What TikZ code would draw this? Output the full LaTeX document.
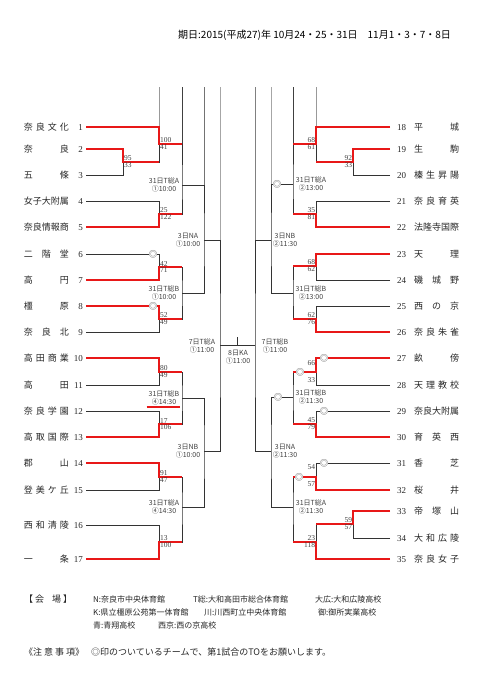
\documentclass[tikz,border=0pt]{standalone}
\usepackage{fontspec}
\setmainfont{Liberation Serif}
\newfontfamily\jp{Noto Sans CJK JP}
\usetikzlibrary{calc}

\definecolor{winred}{RGB}{232,24,24}
\newcommand\tname[1]{\makebox[45pt][s]{\jp #1}}
\newcommand\sep{\hfill{}}

\begin{document}
\begin{tikzpicture}[x=1pt,y=-1pt]

% Bracket style
\tikzset{
    lose/.style={draw=black!80, line width=0.9pt},
    win/.style={draw=winred, line width=1.8pt},
    guide/.style={line width=0.8pt},
    team/.style={inner sep=0pt, font=\fontsize{9}{9}\selectfont, text=black!85},
    score/.style={inner sep=0.8pt, font=\fontsize{7.5}{7.5}\selectfont, text=black!75},
    game/.style={inner sep=0pt, align=center, font=\jp\fontsize{7}{8.5}\selectfont, text=black!75},
    tomark/.style={fill=white, inner sep=0.2pt, font=\jp\fontsize{8.5}{8.5}\selectfont, text=black!70},
    note/.style={anchor=west, inner sep=0pt, font=\jp\fontsize{9}{9}\selectfont, text=black!85},
    venue/.style={note, font=\jp\fontsize{8}{8}\selectfont}
}

\useasboundingbox (0,0) rectangle (482,680);

% Date
\node[anchor=west, inner sep=0pt, font=\jp\fontsize{10}{10}\selectfont] (date) at (178,35)
    {期日:2015(平成27)年 10月24・25・31日　11月1・3・7・8日};

% Teams
\foreach \n/\name/\y in {1/奈\sep 良\sep 文\sep 化/127, 2/奈\sep 良/149, 3/五\sep 條/175,
    4/女\sep 子\sep 大\sep 附\sep 属/201, 5/奈\sep 良\sep 情\sep 報\sep 商/227,
    6/二\sep 階\sep 堂/254, 7/高\sep 円/280, 8/橿\sep 原/306, 9/奈\sep 良\sep 北/332,
    10/高\sep 田\sep 商\sep 業/358, 11/高\sep 田/385, 12/奈\sep 良\sep 学\sep 園/411,
    13/高\sep 取\sep 国\sep 際/437, 14/郡\sep 山/463, 15/登\sep 美\sep ケ\sep 丘/490,
    16/西\sep 和\sep 清\sep 陵/525, 17/一\sep 条/559}
    \node[team, anchor=east] (L\n) at (83,\y) {\tname{\name}\makebox[14pt][r]{\n}};
\foreach \n/\name/\y in {18/平\sep 城/127, 19/生\sep 駒/149, 20/榛\sep 生\sep 昇\sep 陽/175,
    21/奈\sep 良\sep 育\sep 英/201, 22/法\sep 隆\sep 寺\sep 国\sep 際/227,
    23/天\sep 理/254, 24/磯\sep 城\sep 野/280, 25/西\sep の\sep 京/306,
    26/奈\sep 良\sep 朱\sep 雀/332, 27/畝\sep 傍/358, 28/天\sep 理\sep 教\sep 校/385,
    29/奈\sep 良\sep 大\sep 附\sep 属/411, 30/育\sep 英\sep 西/437, 31/香\sep 芝/463,
    32/桜\sep 井/490, 33/帝\sep 塚\sep 山/511, 34/大\sep 和\sep 広\sep 陵/538,
    35/奈\sep 良\sep 女\sep 子/559}
    \node[team, anchor=west] (R\n) at (397,\y) {\makebox[17pt][l]{\n}\tname{\name}};

% Games
\foreach \m/\x/\y in {a0/123/162, a1/159/144, a2/159/214, a3/159/267, a4/159/319,
    a5/159/372, a6/159/424, a7/159/477, a8/159/542, b1/182/185, b2/182/293,
    b3/182/398, b4/182/507, c1/204/240, c2/204/451, d1/220/345,
    r0/353/162, r1/316/144, r2/316/214, r3/316/266, r4/316/319, r5/316/372,
    r6/316/424, r7/316/477, r8/353/524, r9/316/542, s1/293/184, s2/293/293,
    s3/293/397, s4/293/507, t1/271/240, t2/271/451, u1/255/345}
    \coordinate (M\m) at (\x,\y);

% Guide lines at the top
\foreach \x/\y/\c in {159/127/40, 182/144/75, 204/185/55, 220/240/35,
    255/240/50, 271/184/35, 293/144/75, 316/127/40}
    \draw[guide, black!\c] (\x,87) -- (\x,\y);

% Connection (left)
\draw[lose] ([xshift=3pt]L3.east) -| (Ma0);
\draw[lose] (Ma0) -| (Ma1);
\draw[lose] ([xshift=3pt]L4.east) -| (Ma2);
\draw[lose] ([xshift=3pt]L6.east) -| (Ma3);
\draw[lose] ([xshift=3pt]L9.east) -| (Ma4);
\draw[lose] ([xshift=3pt]L11.east) -| (Ma5);
\draw[lose] ([xshift=3pt]L12.east) -| (Ma6);
\draw[lose] ([xshift=3pt]L15.east) -| (Ma7);
\draw[lose] ([xshift=3pt]L16.east) -| (Ma8);
\draw[lose] (Ma1) -| (Mb1) |- (Ma2);
\draw[lose] (Ma3) -| (Mb2) |- (Ma4);
\draw[lose] (Ma5) -| (Mb3) |- (Ma6);
\draw[lose] (Ma7) -| (Mb4) |- (Ma8);
\draw[lose] (Mb1) -| (Mc1) |- (Mb2);
\draw[lose] (Mb3) -| (Mc2) |- (Mb4);
\draw[lose] (Mc1) -| (Md1) |- (Mc2);

% Connection (right)
\draw[lose] ([xshift=-7pt]R20.west) -| (Mr0);
\draw[lose] (Mr0) -| (Mr1);
\draw[lose] ([xshift=-7pt]R21.west) -| (Mr2);
\draw[lose] ([xshift=-7pt]R24.west) -| (Mr3);
\draw[lose] ([xshift=-7pt]R25.west) -| (Mr4);
\draw[lose] ([xshift=-7pt]R28.west) -| (Mr5);
\draw[lose] ([xshift=-7pt]R29.west) -| (Mr6);
\draw[lose] ([xshift=-7pt]R31.west) -| (Mr7);
\draw[lose] ([xshift=-7pt]R34.west) -| (Mr8);
\draw[lose] (Mr8) -| (Mr9);
\draw[lose] (Mr1) -| (Ms1) |- (Mr2);
\draw[lose] (Mr3) -| (Ms2) |- (Mr4);
\draw[lose] (Mr5) -| (Ms3) |- (Mr6);
\draw[lose] (Mr7) -| (Ms4) |- (Mr9);
\draw[lose] (Ms1) -| (Mt1) |- (Ms2);
\draw[lose] (Ms3) -| (Mt2) |- (Ms4);
\draw[lose] (Mt1) -| (Mu1) |- (Mt2);

% Final
\draw[lose] (Md1) -- (Mu1);
\draw[lose] ($(Md1)!0.5!(Mu1)$) -- ++(0,-8);

% Winners
\draw[win] ([xshift=3pt]L2.east) -| (Ma0) -- (Ma0 -| Ma1);
\draw[win] ([xshift=3pt]L1.east) -| (Ma1) -- (Ma1 -| Mb1);
\draw[win] ([xshift=3pt]L5.east) -| (Ma2) -- (Ma2 -| Mb1);
\draw[win] ([xshift=3pt]L7.east) -| (Ma3) -- (Ma3 -| Mb2);
\draw[win] ([xshift=3pt]L8.east) -| (Ma4) -- (Ma4 -| Mb2);
\draw[win] ([xshift=3pt]L10.east) -| (Ma5) -- (Ma5 -| Mb3);
\draw[win] ([xshift=3pt]L13.east) -| (Ma6) -- (Ma6 -| Mb3);
\draw[win] ([xshift=3pt]L14.east) -| (Ma7) -- (Ma7 -| Mb4);
\draw[win] ([xshift=3pt]L17.east) -| (Ma8) -- (Ma8 -| Mb4);
\draw[win] ([xshift=-7pt]R19.west) -| (Mr0) -- (Mr0 -| Mr1);
\draw[win] ([xshift=-7pt]R18.west) -| (Mr1) -- (Mr1 -| Ms1);
\draw[win] ([xshift=-7pt]R22.west) -| (Mr2) -- (Mr2 -| Ms1);
\draw[win] ([xshift=-7pt]R23.west) -| (Mr3) -- (Mr3 -| Ms2);
\draw[win] ([xshift=-7pt]R26.west) -| (Mr4) -- (Mr4 -| Ms2);
\draw[win] ([xshift=-7pt]R27.west) -| (Mr5) -- (Mr5 -| Ms3);
\draw[win] ([xshift=-7pt]R30.west) -| (Mr6) -- (Mr6 -| Ms3);
\draw[win] ([xshift=-7pt]R32.west) -| (Mr7) -- (Mr7 -| Ms4);
\draw[win] ([xshift=-7pt]R33.west) -| (Mr8) -- (Mr8 -| Mr9);
\draw[win] ([xshift=-7pt]R35.west) -| (Mr9) -- (Mr9 -| Ms4);

% Scores
\foreach \m/\t/\b in {a0/95/33, a1/100/41, a2/25/122, a3/42/71, a4/52/49,
    a5/80/49, a6/17/106, a7/91/47, a8/13/100} {
    \node[score, anchor=south west] (S\m t) at (M\m) {\t};
    \node[score, anchor=north west] (S\m b) at (M\m) {\b};
}
\foreach \m/\t/\b in {r0/92/33, r1/68/61, r2/35/81, r3/68/62, r4/62/76,
    r6/45/79, r8/59/57, r9/23/118} {
    \node[score, anchor=south east] (S\m t) at (M\m) {\t};
    \node[score, anchor=north east] (S\m b) at (M\m) {\b};
}
\node[score, anchor=south east] (Sr5t) at ([yshift=5pt]Mr5) {66};
\node[score, anchor=north east] (Sr5b) at ([yshift=-5pt]Mr5) {33};
\node[score, anchor=south east] (Sr7t) at ([yshift=6pt]Mr7) {54};
\node[score, anchor=north east] (Sr7b) at ([yshift=-4pt]Mr7) {57};

% Marks
\foreach \k/\x/\y in {k1/153/254, k2/153/306, k3/324/358, k4/324/411, k5/324/463,
    k6/300/372, k7/299/477, k8/277/184, k9/278/397}
    \node[tomark] (\k) at (\x,\y) {◎};

% Game labels
\node[game] (Gb1) at (164,185) {31日T総A\\①10:00};
\node[game] (Gb2) at (164,293) {31日T総B\\①10:00};
\node[game] (Gb3) at (164,398) {31日T総B\\④14:30};
\node[game] (Gb4) at (164,507) {31日T総A\\④14:30};
\node[game] (Gc1) at (188,240) {3日NA\\①10:00};
\node[game] (Gc2) at (188,451) {3日NB\\①10:00};
\node[game] (Gd1) at (202,346) {7日T総A\\①11:00};
\node[game] (Gs1) at (311,184) {31日T総A\\②13:00};
\node[game] (Gs2) at (311,293) {31日T総B\\②13:00};
\node[game] (Gs3) at (311,397) {31日T総B\\②11:30};
\node[game] (Gs4) at (311,507) {31日T総A\\②11:30};
\node[game] (Gt1) at (285,240) {3日NB\\②11:30};
\node[game] (Gt2) at (285,451) {3日NA\\②11:30};
\node[game] (Gu1) at (275,346) {7日T総B\\①11:00};
\node[game] (Gfin) at (238,357) {8日KA\\①11:00};
\draw[win, line width=1.4pt] ($(Gb3.south west)+(-2,1.5)$) -- ($(Gb3.south east)+(1,1.5)$);

% Venues
\node[note] (venue) at (24,599) {【\hspace{2pt}会\hspace{8pt}場\hspace{2pt}】};
\node[venue] (v1) at (93,599) {N:奈良市中央体育館};
\node[venue] (v2) at (193,599) {T総:大和高田市総合体育館};
\node[venue] (v3) at (315,599) {大広:大和広陵高校};
\node[venue] (v4) at (93,612) {K:県立橿原公苑第一体育館};
\node[venue] (v5) at (204,612) {川:川西町立中央体育館};
\node[venue] (v6) at (318,612) {御:御所実業高校};
\node[venue] (v7) at (93,625) {青:青翔高校};
\node[venue] (v8) at (158,625) {西京:西の京高校};

% Notice
\node[note] (caution) at (24,652) {《注\hspace{2pt}意\hspace{2pt}事\hspace{2pt}項》};
\node[note] (cnote) at (91,652) {◎印のついているチームで、第1試合のTOをお願いします。};

\end{tikzpicture}
\end{document}
